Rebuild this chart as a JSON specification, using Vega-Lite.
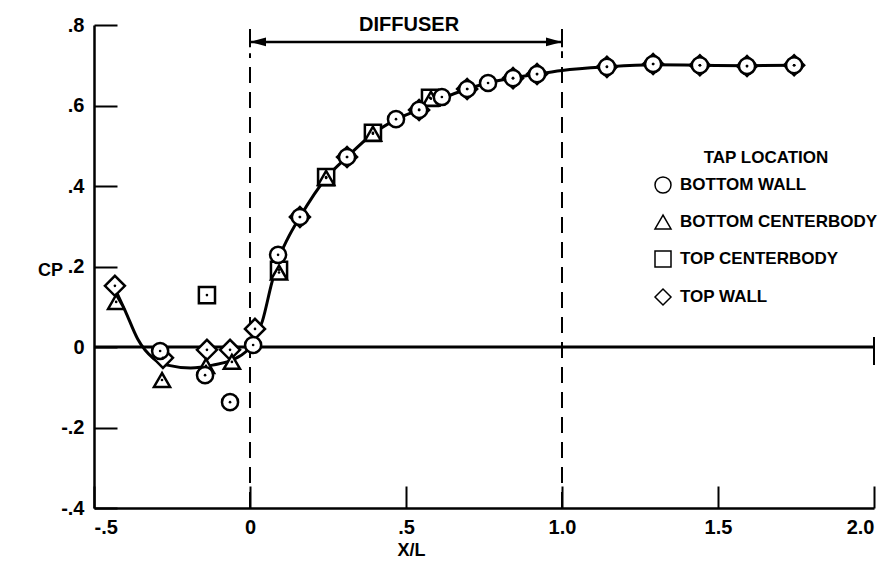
{
  "$schema": "https://vega.github.io/schema/vega-lite/v6.json",
  "width": 780,
  "height": 483,
  "autosize": {"type": "none"},
  "padding": {"left": 94, "top": 25, "right": 21, "bottom": 57},
  "background": "white",
  "config": {
    "font": "Liberation Sans",
    "view": {"stroke": null},
    "axis": {
      "domainColor": "black", "domainWidth": 2.5, "tickColor": "black", "tickWidth": 2,
      "labelColor": "black", "labelFont": "Liberation Sans", "labelFontWeight": "bold", "labelFontSize": 20,
      "titleColor": "black", "titleFont": "Liberation Sans", "titleFontWeight": "bold", "titleFontSize": 18,
      "grid": false
    },
    "legend": {
      "titleFontSize": 17, "titleFontWeight": "bold", "titleColor": "black", "titlePadding": 9,
      "labelFontSize": 17, "labelFontWeight": "bold", "labelColor": "black", "labelOffset": 8, "labelLimit": 400,
      "rowPadding": 16
    }
  },
  "datasets": {
    "pts": [
      {"x": -0.433, "cp": 0.152, "tap": "TOP WALL"},
      {"x": -0.279, "cp": -0.027, "tap": "TOP WALL"},
      {"x": -0.138, "cp": -0.007, "tap": "TOP WALL"},
      {"x": -0.064, "cp": -0.007, "tap": "TOP WALL"},
      {"x": 0.016, "cp": 0.045, "tap": "TOP WALL"},
      {"x": 0.16, "cp": 0.323, "tap": "TOP WALL"},
      {"x": 0.311, "cp": 0.472, "tap": "TOP WALL"},
      {"x": 0.542, "cp": 0.589, "tap": "TOP WALL"},
      {"x": 0.696, "cp": 0.641, "tap": "TOP WALL"},
      {"x": 0.843, "cp": 0.668, "tap": "TOP WALL"},
      {"x": 0.92, "cp": 0.678, "tap": "TOP WALL"},
      {"x": 1.144, "cp": 0.696, "tap": "TOP WALL"},
      {"x": 1.292, "cp": 0.703, "tap": "TOP WALL"},
      {"x": 1.442, "cp": 0.7, "tap": "TOP WALL"},
      {"x": 1.593, "cp": 0.698, "tap": "TOP WALL"},
      {"x": 1.744, "cp": 0.7, "tap": "TOP WALL"},
      {"x": -0.138, "cp": 0.129, "tap": "TOP CENTERBODY"},
      {"x": 0.093, "cp": 0.192, "tap": "TOP CENTERBODY"},
      {"x": 0.244, "cp": 0.422, "tap": "TOP CENTERBODY"},
      {"x": 0.394, "cp": 0.532, "tap": "TOP CENTERBODY"},
      {"x": 0.577, "cp": 0.619, "tap": "TOP CENTERBODY"},
      {"x": -0.429, "cp": 0.112, "tap": "BOTTOM CENTERBODY"},
      {"x": -0.282, "cp": -0.082, "tap": "BOTTOM CENTERBODY"},
      {"x": -0.141, "cp": -0.047, "tap": "BOTTOM CENTERBODY"},
      {"x": -0.058, "cp": -0.037, "tap": "BOTTOM CENTERBODY"},
      {"x": 0.093, "cp": 0.185, "tap": "BOTTOM CENTERBODY"},
      {"x": 0.244, "cp": 0.42, "tap": "BOTTOM CENTERBODY"},
      {"x": 0.394, "cp": 0.53, "tap": "BOTTOM CENTERBODY"},
      {"x": 0.58, "cp": 0.617, "tap": "BOTTOM CENTERBODY"},
      {"x": -0.288, "cp": -0.01, "tap": "BOTTOM WALL"},
      {"x": -0.144, "cp": -0.07, "tap": "BOTTOM WALL"},
      {"x": -0.064, "cp": -0.137, "tap": "BOTTOM WALL"},
      {"x": 0.01, "cp": 0.005, "tap": "BOTTOM WALL"},
      {"x": 0.09, "cp": 0.229, "tap": "BOTTOM WALL"},
      {"x": 0.16, "cp": 0.323, "tap": "BOTTOM WALL"},
      {"x": 0.311, "cp": 0.472, "tap": "BOTTOM WALL"},
      {"x": 0.468, "cp": 0.566, "tap": "BOTTOM WALL"},
      {"x": 0.542, "cp": 0.589, "tap": "BOTTOM WALL"},
      {"x": 0.615, "cp": 0.621, "tap": "BOTTOM WALL"},
      {"x": 0.696, "cp": 0.641, "tap": "BOTTOM WALL"},
      {"x": 0.763, "cp": 0.656, "tap": "BOTTOM WALL"},
      {"x": 0.843, "cp": 0.668, "tap": "BOTTOM WALL"},
      {"x": 0.92, "cp": 0.678, "tap": "BOTTOM WALL"},
      {"x": 1.144, "cp": 0.696, "tap": "BOTTOM WALL"},
      {"x": 1.292, "cp": 0.703, "tap": "BOTTOM WALL"},
      {"x": 1.442, "cp": 0.7, "tap": "BOTTOM WALL"},
      {"x": 1.593, "cp": 0.698, "tap": "BOTTOM WALL"},
      {"x": 1.744, "cp": 0.7, "tap": "BOTTOM WALL"}
    ],
    "curve": [
      {"x": -0.43, "cp": 0.14}, {"x": -0.4, "cp": 0.09}, {"x": -0.36, "cp": 0.02},
      {"x": -0.31, "cp": -0.028}, {"x": -0.265, "cp": -0.045}, {"x": -0.19, "cp": -0.052},
      {"x": -0.12, "cp": -0.045}, {"x": -0.045, "cp": -0.028}, {"x": 0.0, "cp": 0.0},
      {"x": 0.04, "cp": 0.065}, {"x": 0.07, "cp": 0.16}, {"x": 0.09, "cp": 0.215},
      {"x": 0.12, "cp": 0.268}, {"x": 0.16, "cp": 0.323}, {"x": 0.244, "cp": 0.42},
      {"x": 0.311, "cp": 0.472}, {"x": 0.394, "cp": 0.53}, {"x": 0.468, "cp": 0.565},
      {"x": 0.542, "cp": 0.59}, {"x": 0.615, "cp": 0.617}, {"x": 0.696, "cp": 0.641},
      {"x": 0.763, "cp": 0.656}, {"x": 0.843, "cp": 0.668}, {"x": 0.92, "cp": 0.678},
      {"x": 1.0, "cp": 0.687}, {"x": 1.144, "cp": 0.696}, {"x": 1.292, "cp": 0.701},
      {"x": 1.442, "cp": 0.7}, {"x": 1.593, "cp": 0.699}, {"x": 1.75, "cp": 0.7}
    ]
  },
  "layer": [
    {
      "data": {"values": [{"x": -0.5, "x2": 2.0, "y": 0}]},
      "mark": {"type": "rule", "color": "black", "strokeWidth": 3},
      "encoding": {
        "x": {"field": "x", "type": "quantitative", "scale": {"domain": [-0.5, 2.0], "nice": false, "zero": false},
          "axis": {"values": [-0.5, 0, 0.5, 1, 1.5, 2], "tickSize": -22, "labelPadding": 31,
            "labelExpr": "datum.value == 0 ? '0' : replace(replace(format(datum.value, '.1f'), '0.', '.'), '\u2212', '-')",
            "title": "X/L", "titleX": 317, "titleY": 42, "titleBaseline": "middle"}},
        "x2": {"field": "x2"},
        "y": {"field": "y", "type": "quantitative", "scale": {"domain": [-0.4, 0.8], "nice": false, "zero": false},
          "axis": {"values": [-0.4, -0.2, 0, 0.2, 0.4, 0.6, 0.8], "tickSize": -23, "labelPadding": 33,
            "labelExpr": "datum.value == 0 ? '0' : replace(replace(format(datum.value, '.1f'), '0.', '.'), '\u2212', '-')",
            "title": "CP", "titleAngle": 0, "titleX": -44, "titleY": 245, "titleAlign": "center", "titleBaseline": "middle"}}
      }
    },
    {
      "data": {"values": [{"x": 2.0, "y": -0.045, "y2": 0.025}]},
      "mark": {"type": "rule", "color": "black", "strokeWidth": 2},
      "encoding": {"x": {"field": "x", "type": "quantitative"}, "y": {"field": "y", "type": "quantitative"}, "y2": {"field": "y2"}}
    },
    {
      "data": {"values": [{"x": 0, "y": -0.4, "y2": 0.73}, {"x": 1, "y": -0.4, "y2": 0.735}]},
      "mark": {"type": "rule", "color": "black", "strokeWidth": 2, "strokeDash": [16, 9]},
      "encoding": {"x": {"field": "x", "type": "quantitative"}, "y": {"field": "y", "type": "quantitative"}, "y2": {"field": "y2"}}
    },
    {
      "data": {"values": [{"x": 0, "y": 0.745, "y2": 0.79}, {"x": 1, "y": 0.745, "y2": 0.79}]},
      "mark": {"type": "rule", "color": "black", "strokeWidth": 2},
      "encoding": {"x": {"field": "x", "type": "quantitative"}, "y": {"field": "y", "type": "quantitative"}, "y2": {"field": "y2"}}
    },
    {
      "data": {"values": [{"x": 0, "x2": 1, "y": 0.758}]},
      "mark": {"type": "rule", "color": "black", "strokeWidth": 2.5},
      "encoding": {"x": {"field": "x", "type": "quantitative"}, "x2": {"field": "x2"}, "y": {"field": "y", "type": "quantitative"}}
    },
    {
      "data": {"values": [{"x": 0, "y": 0.758}]},
      "mark": {"type": "point", "shape": "M0,0L2,-0.55L2,0.55Z", "size": 256, "filled": true, "color": "black", "opacity": 1},
      "encoding": {"x": {"field": "x", "type": "quantitative"}, "y": {"field": "y", "type": "quantitative"}}
    },
    {
      "data": {"values": [{"x": 1, "y": 0.758}]},
      "mark": {"type": "point", "shape": "M0,0L-2,-0.55L-2,0.55Z", "size": 256, "filled": true, "color": "black", "opacity": 1},
      "encoding": {"x": {"field": "x", "type": "quantitative"}, "y": {"field": "y", "type": "quantitative"}}
    },
    {
      "data": {"values": [{"x": 0.51, "y": 0.8, "label": "DIFFUSER"}]},
      "mark": {"type": "text", "font": "Liberation Sans", "fontWeight": "bold", "fontSize": 20, "baseline": "middle", "align": "center", "color": "black"},
      "encoding": {"x": {"field": "x", "type": "quantitative"}, "y": {"field": "y", "type": "quantitative"}, "text": {"field": "label"}}
    },
    {
      "data": {"name": "curve"},
      "mark": {"type": "line", "interpolate": "monotone", "color": "black", "strokeWidth": 3},
      "encoding": {"x": {"field": "x", "type": "quantitative"}, "y": {"field": "cp", "type": "quantitative"}}
    },
    {
      "data": {"name": "pts"},
      "transform": [{"filter": "datum.tap == 'TOP WALL'"}],
      "mark": {"type": "point", "filled": true, "fill": "white", "stroke": "black", "strokeWidth": 2.5, "size": 400, "opacity": 1},
      "encoding": {
        "x": {"field": "x", "type": "quantitative"},
        "y": {"field": "cp", "type": "quantitative"},
        "shape": {"field": "tap", "type": "nominal",
          "scale": {"domain": ["BOTTOM WALL", "BOTTOM CENTERBODY", "TOP CENTERBODY", "TOP WALL"], "range": ["circle", "triangle-up", "square", "diamond"]},
          "legend": {"title": "TAP LOCATION", "orient": "none", "legendX": 560, "legendY": 125, "titleAnchor": "middle", "symbolSize": 256,
            "encode": {"symbols": {"update": {"fill": {"value": "white"}, "stroke": {"value": "black"}, "strokeWidth": {"value": 2.5}}}}}}
      }
    },
    {
      "data": {"name": "pts"},
      "transform": [{"filter": "datum.tap != 'TOP WALL'"}],
      "mark": {"type": "point", "filled": true, "fill": "white", "stroke": "black", "strokeWidth": 2.5, "size": 260, "opacity": 1},
      "encoding": {
        "x": {"field": "x", "type": "quantitative"},
        "y": {"field": "cp", "type": "quantitative"},
        "shape": {"field": "tap", "type": "nominal",
          "scale": {"domain": ["BOTTOM WALL", "BOTTOM CENTERBODY", "TOP CENTERBODY", "TOP WALL"], "range": ["circle", "triangle-up", "square", "diamond"]},
          "legend": {"title": "TAP LOCATION", "orient": "none", "legendX": 560, "legendY": 125, "titleAnchor": "middle", "symbolSize": 256,
            "encode": {"symbols": {"update": {"fill": {"value": "white"}, "stroke": {"value": "black"}, "strokeWidth": {"value": 2.5}}}}}}
      }
    },
    {
      "data": {"name": "pts"},
      "mark": {"type": "point", "filled": true, "color": "black", "size": 7, "opacity": 1},
      "encoding": {"x": {"field": "x", "type": "quantitative"}, "y": {"field": "cp", "type": "quantitative"}}
    }
  ]
}
